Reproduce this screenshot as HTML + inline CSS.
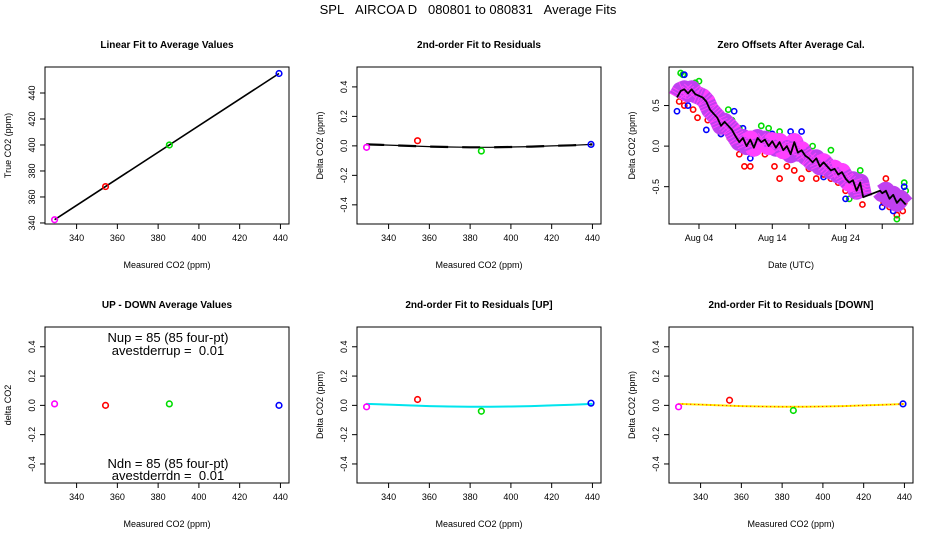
<!DOCTYPE html>
<html><head><meta charset="utf-8"><style>
html,body{margin:0;padding:0;background:#fff;}
svg{display:block;font-family:"Liberation Sans",sans-serif;}
</style></head><body>
<svg id="c" width="936" height="540" viewBox="0 0 936 540">
<text x="468" y="14" font-size="13" text-anchor="middle" style="white-space:pre">SPL&#160;&#160;&#160;AIRCOA D&#160;&#160;&#160;080801 to 080831&#160;&#160;&#160;Average Fits</text>
</svg>
<script>
// ---- data ----
const calNames = ['magenta','red','green','blue'];
const calColors = ['#ff00ff','#ff0000','#00dd00','#0000ff'];
const measured = [329.2, 354.2, 385.5, 439.3];
const trueVals = [342.5, 368.0, 400.0, 455.0];
const residuals = [-0.01, 0.035, -0.035, 0.01];
const resUp = [-0.01, 0.04, -0.04, 0.015];
const resDown = [-0.01, 0.035, -0.035, 0.01];
const upDown = [0.01, 0.0, 0.01, 0.0];
const fitX = [329, 340, 350, 360, 370, 380, 390, 400, 410, 420, 430, 440];
const fitRes = [0.01, 0.005, 0.0, -0.005, -0.008, -0.01, -0.01, -0.008, -0.005, 0.0, 0.004, 0.01];
const linTicksX = [340, 360, 380, 400, 420, 440];
const linTicksY = [340, 360, 380, 400, 420, 440];
const resTicksY = [-0.4, -0.2, 0.0, 0.2, 0.4];
const resTickLabels = ['-0.4','-0.2','0.0','0.2','0.4'];
const tsDays = [1,1.5,2,2.5,3,3.5,4,4.5,5,5.5,6,6.5,7,7.5,8,8.5,9,9.5,10,10.5,11,11.5,12,12.5,13,13.5,14,14.5,15,15.5,16,16.5,17,17.5,18,18.5,19,19.5,20,20.5,21,21.5,22,22.5,23,23.5,24,24.5,25,25.5,26,26.4,28.7,29,29.5,30,30.5,31,31.5,32.2];
const tsMean = [0.60,0.68,0.70,0.65,0.70,0.64,0.62,0.60,0.55,0.45,0.40,0.35,0.25,0.30,0.25,0.20,0.12,0.05,0.10,0.0,0.08,-0.02,0.10,0.05,0.08,0.0,0.06,-0.02,0.05,-0.05,0.0,-0.10,0.05,-0.08,-0.05,-0.12,-0.15,-0.20,-0.15,-0.25,-0.20,-0.25,-0.30,-0.28,-0.35,-0.32,-0.40,-0.45,-0.42,-0.55,-0.45,-0.63,-0.55,-0.58,-0.55,-0.65,-0.60,-0.70,-0.65,-0.72];
const tsRedDays = [1.3,2,3.2,3.8,5.2,6,7,8.2,9,9.5,10.2,11,12,13,14.3,15,16,17,18,19,20,21,22,23,24,25,26.3,29.2,30,31,31.8,29.5,32];
const tsRedVals = [0.55,0.5,0.45,0.35,0.32,0.3,0.15,0.1,0.05,-0.1,-0.25,-0.25,-0.05,-0.1,-0.25,-0.4,-0.25,-0.3,-0.4,-0.28,-0.4,-0.35,-0.4,-0.45,-0.55,-0.55,-0.72,-0.7,-0.75,-0.85,-0.8,-0.4,-0.7];
const tsGreenDays = [1.5,1.8,3.5,4,6.5,8,8.5,9.5,12.5,13.5,15,19.5,22,24.5,26,31,32,32.2];
const tsGreenVals = [0.9,0.88,0.78,0.8,0.35,0.45,0.32,0.22,0.25,0.22,0.18,0.0,-0.05,-0.65,-0.3,-0.9,-0.45,-0.55];
const tsBlueDays = [1,2,2.5,5,7,8.8,10,11,14,16.5,18,21,24,25.5,29,30.5,32];
const tsBlueVals = [0.43,0.88,0.5,0.2,0.15,0.43,0.22,-0.15,0.15,0.18,0.18,-0.38,-0.65,-0.6,-0.75,-0.8,-0.5];
const dateTicks = [4, 9, 14, 19, 24, 29];
const dateTickLabels = ['Aug 04','','Aug 14','','Aug 24',''];
const tsTicksY = [-0.5, 0.0, 0.5];
const tsTickLabels = ['-0.5','0.0','0.5'];

// ---- helpers ----
const svg = document.getElementById('c');
const NS = 'http://www.w3.org/2000/svg';
function mk(tag, attrs, parent){const e=document.createElementNS(NS,tag);for(const k in attrs)e.setAttribute(k,attrs[k]);(parent||svg).appendChild(e);return e;}
function scale(d0,d1,r0,r1){return v=>r0+(v-d0)/(d1-d0)*(r1-r0);}

function panel(name,title,box,xd,yd,xt,xtl,yt,ytl,xlab,ylab){
  const g=mk('g',{});
  
  
  const [x0,y0,x1,y1]=box;
  const sx=scale(xd[0],xd[1],x0,x1), sy=scale(yd[0],yd[1],y1,y0);
  const t=mk('text',{x:(x0+x1)/2,y:y0-19,'font-size':10,'font-weight':'bold','text-anchor':'middle'},g);
  t.textContent=title;
  
  
  const r=mk('rect',{x:x0,y:y0,width:x1-x0,height:y1-y0,fill:'none',stroke:'#000','stroke-width':1},g);
  
  
  xt.forEach((v,i)=>{const x=sx(v);mk('line',{x1:x,x2:x,y1:y1,y2:y1+5,stroke:'#000'},g);
    if(xtl[i]){const l=mk('text',{x:x,y:y1+17,'font-size':9,'text-anchor':'middle'},g);l.textContent=xtl[i];
    
    }});
  yt.forEach((v,i)=>{const y=sy(v);mk('line',{x1:x0-5,x2:x0,y1:y,y2:y,stroke:'#000'},g);
    const l=mk('text',{x:x0-10,y:y,'font-size':9,'text-anchor':'middle',transform:`rotate(-90 ${x0-10} ${y})`},g);l.textContent=ytl[i];
    
    });
  const xl=mk('text',{x:(x0+x1)/2,y:y1+44,'font-size':9,'text-anchor':'middle'},g);xl.textContent=xlab;
  
  
  const yx=x0-34, yy=(y0+y1)/2;
  const yl=mk('text',{x:yx,y:yy,'font-size':9,'text-anchor':'middle',transform:`rotate(-90 ${yx} ${yy})`},g);yl.textContent=ylab;
  
  
  return {g,sx,sy};
}
function pts(p,xs,ys,color,name,r){
  xs.forEach((v,i)=>{const c=mk('circle',{cx:p.sx(v),cy:p.sy(ys[i]),r:r||2.8,fill:'none',stroke:color,'stroke-width':1.6},p.g);
    
    });
}
function line(p,xs,ys,color,w,name,dash){
  const d=xs.map((v,i)=>(i?'L':'M')+p.sx(v).toFixed(1)+','+p.sy(ys[i]).toFixed(1)).join('');
  const a={d:d,fill:'none',stroke:color,'stroke-width':w,'stroke-linejoin':'round'};
  if(dash)a['stroke-dasharray']=dash;
  const e=mk('path',a,p.g);
  
  
}
const xd=[324.5,444.2], rd=[-0.53,0.535];
const mco='Measured CO2 (ppm)';

// Panel 1
let p=panel('linear-fit-panel','Linear Fit to Average Values',[45,67,289,224],xd,[339.2,460],linTicksX,linTicksX.map(String),linTicksY,linTicksY.map(String),mco,'True CO2 (ppm)');
line(p,[measured[0],measured[3]],[trueVals[0],trueVals[3]],'#000',1.6,'fit-line');
measured.forEach((m,i)=>pts(p,[m],[trueVals[i]],calColors[i],'point-'+calNames[i]));

// Panel 2
p=panel('residual-fit-panel','2nd-order Fit to Residuals',[357,67,601,224],xd,rd,linTicksX,linTicksX.map(String),resTicksY,resTickLabels,mco,'Delta CO2 (ppm)');
line(p,fitX,fitRes,'#000',1.2,'fit-curve');
line(p,fitX,fitRes,'#000',2.2,'fit-curve-dash','18 14');
measured.forEach((m,i)=>pts(p,[m],[residuals[i]],calColors[i],'residual-'+calNames[i]));

// Panel 3 time series
p=panel('zero-offsets-panel','Zero Offsets After Average Cal.',[669,67,913,224],[-0.09,33.2],[-0.96,0.975],dateTicks,dateTickLabels,tsTicksY,tsTickLabels,'Date (UTC)','Delta CO2 (ppm)');
pts(p,tsRedDays,tsRedVals,'#ff0000','zero-red',2.6);
pts(p,tsGreenDays,tsGreenVals,'#00dd00','zero-green',2.6);
pts(p,tsBlueDays,tsBlueVals,'#0000ff','zero-blue',2.6);
line(p,tsDays.slice(0,52),tsMean.slice(0,52),'#c040f0',18,'zero-band');
line(p,tsDays.slice(52),tsMean.slice(52),'#c040f0',18,'zero-band-2');
line(p,tsDays.slice(0,52),tsMean.slice(0,52),'#ff40ff',18,'zero-band-texture','1 2');
line(p,tsDays,tsMean,'#000',1.8,'zero-mean-line');

// Panel 4
p=panel('up-down-panel','UP - DOWN Average Values',[45,327,289,483],xd,rd,linTicksX,linTicksX.map(String),resTicksY,resTickLabels,mco,'delta CO2');
measured.forEach((m,i)=>pts(p,[m],[upDown[i]],calColors[i],'updown-'+calNames[i]));
[['Nup = 85 (85 four-pt)',338],['avestderrup =  0.01',351],['Ndn = 85 (85 four-pt)',464],['avestderrdn =  0.01',476]].forEach(a=>{
  const t=mk('text',{x:168,y:a[1]+4,'font-size':13,'text-anchor':'middle',style:'white-space:pre'},p.g);t.textContent=a[0];
  
  });

// Panel 5
p=panel('residual-up-panel','2nd-order Fit to Residuals [UP]',[357,327,601,483],xd,rd,linTicksX,linTicksX.map(String),resTicksY,resTickLabels,mco,'Delta CO2 (ppm)');
line(p,fitX,fitRes,'#000',1.2,'fit-curve-up-black');
line(p,fitX,fitRes,'#00e5ee',2,'fit-curve-up');
measured.forEach((m,i)=>pts(p,[m],[resUp[i]],calColors[i],'residual-up-'+calNames[i]));

// Panel 6
p=panel('residual-down-panel','2nd-order Fit to Residuals [DOWN]',[669,327,913,483],xd,rd,linTicksX,linTicksX.map(String),resTicksY,resTickLabels,mco,'Delta CO2 (ppm)');
line(p,fitX,fitRes,'#ffee00',2,'fit-curve-down');
line(p,fitX,fitRes,'#ff0000',1,'fit-curve-down-dots','1 3');
measured.forEach((m,i)=>pts(p,[m],[resDown[i]],calColors[i],'residual-down-'+calNames[i]));
</script>
</body></html>
